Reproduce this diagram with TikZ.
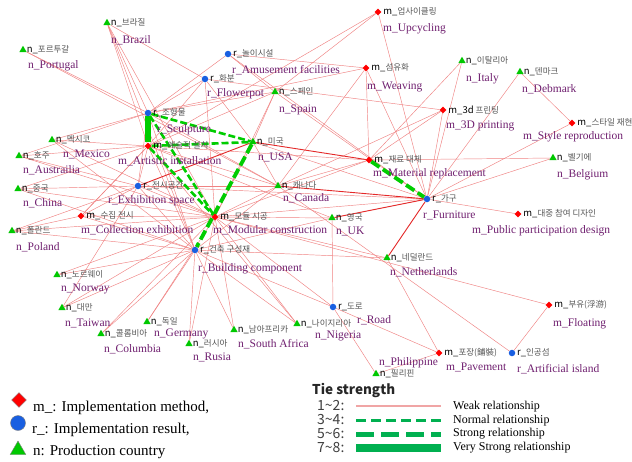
\documentclass[tikz,border=0pt]{standalone}
\usepackage{fontspec}
\setmainfont{Liberation Serif}
\newfontfamily\kofont{Noto Sans CJK KR}
\usetikzlibrary{shapes.geometric, positioning, backgrounds}

\definecolor{mred}{RGB}{255,0,0}
\definecolor{rblue}{RGB}{25,95,225}
\definecolor{ngreen}{RGB}{0,200,0}
\definecolor{labpurple}{RGB}{112,32,112}
\definecolor{kogray}{RGB}{85,85,85}
\definecolor{edgepink}{RGB}{240,130,130}
\definecolor{edgered}{RGB}{228,40,40}
\definecolor{tiegreen}{RGB}{0,205,0}
\definecolor{keygreen}{RGB}{0,176,80}
\definecolor{keypink}{RGB}{240,165,165}

\newcommand{\kopre}[1]{{\color{black}\fontsize{9.5}{10}\selectfont #1}}

\tikzset{
  mnode/.style={diamond, fill=mred, inner sep=0pt, minimum size=7pt},
  rnode/.style={circle, fill=rblue, inner sep=0pt, minimum size=6.5pt},
  nnode/.style={regular polygon, regular polygon sides=3, fill=ngreen, inner sep=0pt, minimum size=8.5pt},
  kolab/.style={font=\kofont\fontsize{8.5}{9}\selectfont, text=kogray, inner sep=0pt},
  enlab/.style={font=\fontsize{11.5}{13}\selectfont, text=labpurple, inner sep=0pt, anchor=base west},
  tieweak/.style={draw=edgepink, line width=0.45pt},
  tiemid/.style={draw=edgered, line width=0.9pt},
  tienormal/.style={draw=tiegreen, line width=2.6pt, dash pattern=on 7pt off 3pt},
  tiestrong/.style={draw=tiegreen, line width=3.8pt, dash pattern=on 10pt off 4pt},
  tievstrong/.style={draw=tiegreen, line width=5.5pt},
  keytext/.style={font=\fontsize{15}{17}\selectfont, inner sep=0pt, anchor=base west},
  tiekey/.style={font=\kofont\fontsize{14}{16}\selectfont, text=black!75, inner sep=0pt, anchor=west},
  tietext/.style={font=\fontsize{12}{14}\selectfont, inner sep=0pt, anchor=west},
}

\begin{document}
\begin{tikzpicture}[x=1pt, y=-1pt]
  \useasboundingbox (0,0) rectangle (632,461);
  % Nodes: methods
  \node (upc) [mnode] at (378,12) {};
  \node (wea) [mnode] at (366,68) {};
  \node (tdp) [mnode] at (443,110) {};
  \node (sty) [mnode] at (572,123) {};
  \node (mat) [mnode] at (369,160) {};
  \node (pub) [mnode] at (518,214) {};
  \node (art) [mnode] at (148,146) {};
  \node (col) [mnode] at (81,216) {};
  \node (mod) [mnode] at (215,217) {};
  \node (flo) [mnode] at (549,305) {};
  \node (pav) [mnode] at (439,353) {};
  % Nodes: results
  \node (amu) [rnode] at (228,54) {};
  \node (flw) [rnode] at (205,79) {};
  \node (scu) [rnode] at (148,113) {};
  \node (exh) [rnode] at (138,186) {};
  \node (bld) [rnode] at (195,250) {};
  \node (fur) [rnode] at (427,199) {};
  \node (roa) [rnode] at (333,307) {};
  \node (isl) [rnode] at (512,353) {};
  % Nodes: countries
  \node (bra) [nnode] at (107,23) {};
  \node (por) [nnode] at (23,50) {};
  \node (spa) [nnode] at (275,92) {};
  \node (usa) [nnode] at (253,142) {};
  \node (ita) [nnode] at (462,61) {};
  \node (den) [nnode] at (520,72) {};
  \node (mex) [nnode] at (52,140) {};
  \node (aus) [nnode] at (19,156) {};
  \node (chi) [nnode] at (18,189) {};
  \node (pol) [nnode] at (12,231) {};
  \node (can) [nnode] at (278,186) {};
  \node (uk) [nnode] at (332,218) {};
  \node (bel) [nnode] at (553,158) {};
  \node (net) [nnode] at (387,258) {};
  \node (nor) [nnode] at (57,275) {};
  \node (tai) [nnode] at (62,308) {};
  \node (clm) [nnode] at (101,334) {};
  \node (ger) [nnode] at (147,322) {};
  \node (rus) [nnode] at (189,344) {};
  \node (saf) [nnode] at (234,330) {};
  \node (nig) [nnode] at (297,324) {};
  \node (phi) [nnode] at (376,374) {};
  % Korean labels
  \node (upc-ko) [kolab, right=1.5pt of upc] {\kopre{m\_}업사이클링};
  \node (wea-ko) [kolab, right=1.5pt of wea] {\kopre{m\_}섬유화};
  \node (tdp-ko) [kolab, right=1.5pt of tdp] {\kopre{m\_3d} 프린팅};
  \node (sty-ko) [kolab, right=1.5pt of sty] {\kopre{m\_}스타일 재현};
  \node (mat-ko) [kolab, right=1.5pt of mat] {\kopre{m\_}재료 대체};
  \node (pub-ko) [kolab, right=1.5pt of pub] {\kopre{m\_}대중 참여 디자인};
  \node (art-ko) [kolab, right=1.5pt of art] {\kopre{m\_}예술적 설치};
  \node (col-ko) [kolab, right=1.5pt of col] {\kopre{m\_}수집 전시};
  \node (mod-ko) [kolab, right=1.5pt of mod] {\kopre{m\_}모듈 시공};
  \node (flo-ko) [kolab, right=1.5pt of flo] {\kopre{m\_}부유(浮游)};
  \node (pav-ko) [kolab, right=1.5pt of pav] {\kopre{m\_}포장(鋪裝)};
  \node (amu-ko) [kolab, right=1.5pt of amu] {\kopre{r\_}놀이시설};
  \node (flw-ko) [kolab, right=1.5pt of flw] {\kopre{r\_}화분};
  \node (scu-ko) [kolab, right=1.5pt of scu] {\kopre{r\_}조형물};
  \node (exh-ko) [kolab, right=1.5pt of exh] {\kopre{r\_}전시공간};
  \node (bld-ko) [kolab, right=1.5pt of bld] {\kopre{r\_}건축 구성재};
  \node (fur-ko) [kolab, right=1.5pt of fur] {\kopre{r\_}가구};
  \node (roa-ko) [kolab, right=1.5pt of roa] {\kopre{r\_}도로};
  \node (isl-ko) [kolab, right=1.5pt of isl] {\kopre{r\_}인공섬};
  \node (bra-ko) [kolab, right=1pt of bra] {\kopre{n\_}브라질};
  \node (por-ko) [kolab, right=1pt of por] {\kopre{n\_}포르투갈};
  \node (spa-ko) [kolab, right=1pt of spa] {\kopre{n\_}스페인};
  \node (usa-ko) [kolab, right=1pt of usa] {\kopre{n\_}미국};
  \node (ita-ko) [kolab, right=1pt of ita] {\kopre{n\_}이탈리아};
  \node (den-ko) [kolab, right=1pt of den] {\kopre{n\_}덴마크};
  \node (mex-ko) [kolab, right=1pt of mex] {\kopre{n\_}멕시코};
  \node (aus-ko) [kolab, right=1pt of aus] {\kopre{n\_}호주};
  \node (chi-ko) [kolab, right=1pt of chi] {\kopre{n\_}중국};
  \node (pol-ko) [kolab, right=1pt of pol] {\kopre{n\_}폴란드};
  \node (can-ko) [kolab, right=1pt of can] {\kopre{n\_}캐나다};
  \node (uk-ko) [kolab, right=1pt of uk] {\kopre{n\_}영국};
  \node (bel-ko) [kolab, right=1pt of bel] {\kopre{n\_}벨기에};
  \node (net-ko) [kolab, right=1pt of net] {\kopre{n\_}네덜란드};
  \node (nor-ko) [kolab, right=1pt of nor] {\kopre{n\_}노르웨이};
  \node (tai-ko) [kolab, right=1pt of tai] {\kopre{n\_}대만};
  \node (clm-ko) [kolab, right=1pt of clm] {\kopre{n\_}콜롬비아};
  \node (ger-ko) [kolab, right=1pt of ger] {\kopre{n\_}독일};
  \node (rus-ko) [kolab, right=1pt of rus] {\kopre{n\_}러시아};
  \node (saf-ko) [kolab, right=1pt of saf] {\kopre{n\_}남아프리카};
  \node (nig-ko) [kolab, right=1pt of nig] {\kopre{n\_}나이지리아};
  \node (phi-ko) [kolab, right=1pt of phi] {\kopre{n\_}필리핀};
  % English labels
  \node (upc-en) [enlab] at (383,31) {m\_Upcycling};
  \node (wea-en) [enlab] at (367,89) {m\_Weaving};
  \node (tdp-en) [enlab] at (446,128) {m\_3D printing};
  \node (sty-en) [enlab] at (523,139) {m\_Style reproduction};
  \node (mat-en) [enlab] at (373,176) {m\_Material replacement};
  \node (pub-en) [enlab] at (472,233) {m\_Public participation design};
  \node (art-en) [enlab] at (118,164) {m\_Artistic installation};
  \node (col-en) [enlab] at (81,233) {m\_Collection exhibition};
  \node (mod-en) [enlab] at (213,233) {m\_Modular construction};
  \node (flo-en) [enlab] at (553,326) {m\_Floating};
  \node (pav-en) [enlab] at (446,370) {m\_Pavement};
  \node (amu-en) [enlab] at (232,73) {r\_Amusement facilities};
  \node (flw-en) [enlab] at (207,96) {r\_Flowerpot};
  \node (scu-en) [enlab] at (157,132) {r\_Sculpture};
  \node (exh-en) [enlab] at (108,203) {r\_Exhibition space};
  \node (bld-en) [enlab] at (198,271) {r\_Building component};
  \node (fur-en) [enlab] at (423,218) {r\_Furniture};
  \node (roa-en) [enlab] at (357,323) {r\_Road};
  \node (isl-en) [enlab] at (517,372) {r\_Artificial island};
  \node (bra-en) [enlab] at (111,43) {n\_Brazil};
  \node (por-en) [enlab] at (28,68) {n\_Portugal};
  \node (spa-en) [enlab] at (279,112) {n\_Spain};
  \node (usa-en) [enlab] at (258,160) {n\_USA};
  \node (ita-en) [enlab] at (466,81) {n\_Italy};
  \node (den-en) [enlab] at (522,92) {n\_Debmark};
  \node (mex-en) [enlab] at (63,157) {n\_Mexico};
  \node (aus-en) [enlab] at (23,173) {n\_Austrailia};
  \node (chi-en) [enlab] at (23,206) {n\_China};
  \node (pol-en) [enlab] at (16,250) {n\_Poland};
  \node (can-en) [enlab] at (283,201) {n\_Canada};
  \node (uk-en) [enlab] at (336,234) {n\_UK};
  \node (bel-en) [enlab] at (557,177) {n\_Belgium};
  \node (net-en) [enlab] at (390,275) {n\_Netherlands};
  \node (nor-en) [enlab] at (61,291) {n\_Norway};
  \node (tai-en) [enlab] at (65,326) {n\_Taiwan};
  \node (clm-en) [enlab] at (104,352) {n\_Columbia};
  \node (ger-en) [enlab] at (154,336) {n\_Germany};
  \node (rus-en) [enlab] at (193,360) {n\_Rusia};
  \node (saf-en) [enlab] at (238,347) {n\_South Africa};
  \node (nig-en) [enlab] at (315,338) {n\_Nigeria};
  \node (phi-en) [enlab] at (379,365) {n\_Philippine};
  % Ties
  \begin{scope}[on background layer]
    \fill[white] (0,0) rectangle (632,461);
    \foreach \a/\b in {bra/scu, bra/art, bra/flw, bra/mod, bra/bld, por/scu, por/can,
      flw/scu, flw/art, flw/tdp, flw/mod, flw/usa, amu/wea, amu/spa, amu/fur, amu/scu,
      upc/spa, upc/art, upc/fur, wea/can, wea/fur, wea/mat, wea/scu, ita/mat, ita/fur,
      den/fur, den/sty, tdp/can, tdp/mat, tdp/fur, sty/fur, mat/bel, mat/can, mat/mod,
      mat/art, fur/bel, fur/pub, fur/mod, fur/usa, fur/exh, fur/spa, spa/scu, spa/art,
      spa/mod, usa/can, usa/mod, usa/spa, mex/art, mex/scu, mex/mod, mex/bld, aus/scu,
      aus/art, aus/exh, aus/mod, chi/exh, chi/mod, chi/bld, chi/art, pol/mod, pol/bld,
      pol/col, pol/exh, col/mod, col/bld, col/exh, col/art, exh/mod, exh/bld, exh/scu,
      exh/can, exh/art, nor/bld, nor/mod, tai/bld, tai/mod, tai/exh, clm/bld, clm/mod,
      ger/bld, ger/mod, rus/bld, rus/mod, saf/bld, saf/mod, nig/bld, nig/mod, nig/art,
      can/mod, can/bld, can/scu, can/art, uk/mod, uk/bld, uk/roa, uk/art, net/bld,
      net/mod, net/pav, roa/bld, roa/mod, roa/phi, roa/pav, phi/pav, flo/isl, mod/flo,
      can/isl, art/bld, scu/bld, art/col}
      \draw[tieweak] (\a) -- (\b);
    \draw[tiemid] (usa) -- (mat);
    \draw[tiemid] (usa) -- (exh);
    \draw[tiemid] (fur) -- (uk);
    \draw[tiemid] (fur) -- (net);
    \draw[tiemid] (fur) -- (can);
    \draw[tienormal] (scu) -- (usa);
    \draw[tienormal] (art) -- (usa);
    \draw[tienormal] (scu) -- (mod);
    \draw[tienormal] (art) -- (mod);
    \draw[tiestrong] (usa) -- (bld);
    \draw[tiestrong] (mat) -- (fur);
    \draw[tievstrong] (scu) -- (art);
  \end{scope}
  % Legend: node kinds
  \node (key-m) [mnode, draw=black!50, minimum size=15pt] at (19,400) {};
  \node (key-r) [rnode, draw=black!50, minimum size=15pt] at (18,423) {};
  \node (key-n) [nnode, draw=black!50, minimum size=18pt] at (18,450) {};
  \node (key-m-txt) [keytext] at (33,411) {m\_: Implementation method,};
  \node (key-r-txt) [keytext] at (32,433) {r\_: Implementation result,};
  \node (key-n-txt) [keytext] at (33,455) {n: Production country};
  % Legend: tie strength
  \node (tie-title) [tiekey, font=\kofont\bfseries\fontsize{13.5}{15}\selectfont, text=black!85] at (312,390) {Tie strength};
  \node (k12) [tiekey] at (317,406) {1\textasciitilde 2:};
  \node (k34) [tiekey] at (317,420) {3\textasciitilde 4:};
  \node (k56) [tiekey] at (317,434) {5\textasciitilde 6:};
  \node (k78) [tiekey] at (317,448) {7\textasciitilde 8:};
  \coordinate (w1a) at (356,406);
  \coordinate (w1b) at (441,406);
  \coordinate (w2a) at (356,420);
  \coordinate (w2b) at (441,420);
  \coordinate (w3a) at (356,434);
  \coordinate (w3b) at (441,434);
  \coordinate (w4a) at (356,448);
  \coordinate (w4b) at (441,448);
  \draw[keypink, line width=1.5pt] (w1a) -- (w1b);
  \draw[keygreen, line width=3pt, dash pattern=on 10pt off 5pt] (w2a) -- (w2b);
  \draw[keygreen, line width=5pt, dash pattern=on 18pt off 7pt] (w3a) -- (w3b);
  \draw[keygreen, line width=8pt] (w4a) -- (w4b);
  \node (kweak) [tietext] at (453,407) {Weak relationship};
  \node (knormal) [tietext] at (453,421) {Normal relationship};
  \node (kstrong) [tietext] at (453,434) {Strong relationship};
  \node (kvstrong) [tietext] at (453,448) {Very Strong relationship};
\end{tikzpicture}
\end{document}
